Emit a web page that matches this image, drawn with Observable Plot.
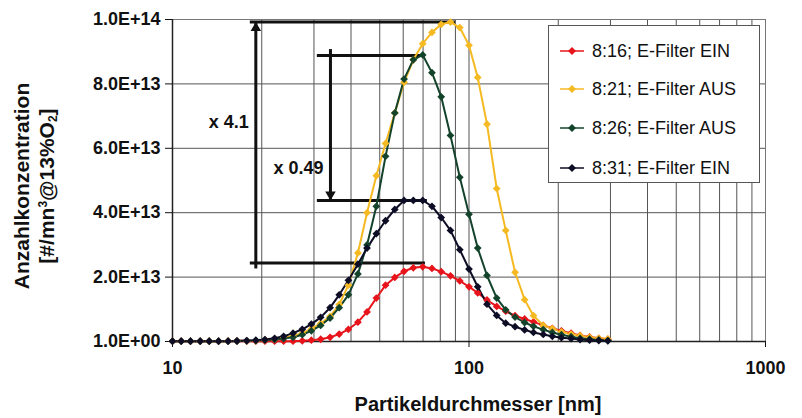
<!DOCTYPE html>
<html><head><meta charset="utf-8">
<script src="https://cdn.jsdelivr.net/npm/d3@7"></script>
<script src="https://cdn.jsdelivr.net/npm/@observablehq/plot@0.6"></script>
<style>
body{margin:0;background:#fff;}
#wrap{position:relative;width:802px;height:418px;font-family:"Liberation Sans",Arial,sans-serif;color:#111;}
#legend{position:absolute;left:548px;top:25px;width:212px;height:158px;border:1px solid #555;background:#fff;box-sizing:border-box;}
.row{position:absolute;left:10px;height:22px;display:flex;align-items:center;font-size:18px;white-space:nowrap;}
.row svg{margin-right:7px;}
#xtitle{position:absolute;left:278px;top:392px;width:400px;text-align:center;font-size:20px;font-weight:bold;line-height:24px;}
#ytitle{position:absolute;left:-86px;top:161px;width:240px;height:50px;text-align:center;font-size:21px;font-weight:bold;line-height:25px;transform:rotate(-90deg);transform-origin:center;}
#ytitle sup{font-size:12px;vertical-align:7px;line-height:0;}
#ytitle sub{font-size:12px;vertical-align:-3px;line-height:0;}
</style></head><body><div id="wrap"></div>
<script>
const diameters = [10.0,10.7,11.5,12.4,13.3,14.3,15.4,16.5,17.8,19.1,20.5,22.1,23.7,25.5,27.4,29.4,31.6,34.0,36.5,39.2,42.2,45.3,48.7,52.3,56.2,60.4,64.9,69.8,75.0,80.6,86.6,93.1,100,107,115,124,133,143,154,165,178,191,205,221,237,255,274,294];
const seriesNames = ["8:16; E-Filter EIN","8:21; E-Filter AUS","8:26; E-Filter AUS","8:31; E-Filter EIN"];
const seriesColors = ["#e8141c","#f5b922","#14432c","#0d0d26"];
// concentrations in units of 1e12 #/mn3
const conc816 = [0.1,0.1,0.1,0.1,0.1,0.1,0.1,0.1,0.1,0.1,0.1,0.1,0.1,0.1,0.2,0.4,0.7,1.3,2.3,3.8,6.0,9.2,13.5,17.5,19.9,21.8,22.9,23.2,22.7,21.7,20.4,18.8,17.0,15.1,12.9,10.9,9.4,8.0,7.0,6.1,5.0,4.1,3.3,2.6,1.9,1.4,1.0,0.7];
const conc821 = [0.1,0.1,0.1,0.1,0.1,0.1,0.1,0.2,0.2,0.3,0.5,0.7,1.1,1.7,2.6,3.9,5.6,7.8,11.5,17.5,27.5,40.0,51.5,61.5,71.0,80.5,87.5,92.5,96.0,98.5,99.2,97.5,92.0,82.0,67.5,47.5,34.5,21.5,13.0,8.0,5.0,4.0,3.0,2.3,1.8,1.3,1.0,0.8];
const conc826 = [0.1,0.1,0.1,0.1,0.1,0.1,0.1,0.1,0.2,0.3,0.4,0.6,0.9,1.3,2.1,3.3,5.0,7.3,10.5,14.5,21.0,30.0,42.0,57.5,71.0,81.5,87.5,89.0,83.5,76.0,64.0,51.0,39.5,29.0,20.5,13.5,9.8,7.6,5.9,4.7,3.7,2.8,2.1,1.5,1.0,0.7,0.5,0.3];
const conc831 = [0.1,0.1,0.1,0.1,0.1,0.1,0.1,0.2,0.3,0.4,0.6,1.0,1.6,2.6,3.8,5.4,7.5,10.5,14.5,19.0,24.0,29.0,33.5,37.5,41.0,43.8,43.8,43.8,42.0,38.5,34.5,28.5,22.5,17.0,11.6,8.1,5.7,4.6,3.6,2.8,2.2,1.6,1.2,0.9,0.6,0.4,0.3,0.2];
const yTicks = [0,20,40,60,80,100];
const yTickLabels = ["1.0E+00","2.0E+13","4.0E+13","6.0E+13","8.0E+13","1.0E+14"];
const xTickValues = [10,100,1000];
const xGridValues = [20,30,40,50,60,70,80,90,100,200,300,400,500,600,700,800,900];
const yGridValues = [20,40,60,80];
// ratio annotations
const ratioLabels = ["x 4.1","x 0.49"];
const ratioArrowX = [19.1,34.1];
const ratioLeftX = [18.3,30.8];
const ratioHighV = [99.2,88.8];
const ratioHighRightX = [90,70.2];
const ratioLowV = [24.4,43.8];
const ratioLowRightX = [71.3,72.4];
const ratioLabelV = [68,53.7];
const ratioArrowUp = [true,false];

const rows = [];
[conc816,conc821,conc826,conc831].forEach((vals,k)=>vals.forEach((v,i)=>rows.push({d:diameters[i],v,s:seriesNames[k]})));
const hLines = ratioLabels.flatMap((t,i)=>[{v:ratioHighV[i],a:ratioLeftX[i],b:ratioHighRightX[i]},{v:ratioLowV[i],a:ratioLeftX[i],b:ratioLowRightX[i]}]);
const vLines = ratioLabels.map((t,i)=>({x:ratioArrowX[i],lo:ratioLowV[i],hi:ratioHighV[i],up:ratioArrowUp[i]}));
const heads = ratioLabels.map((t,i)=>({x:ratioArrowX[i],v:ratioArrowUp[i]?ratioHighV[i]:ratioLowV[i],up:ratioArrowUp[i]}));
const labels = ratioLabels.map((t,i)=>({x:ratioArrowX[i],v:ratioLabelV[i],t}));

const chart = Plot.plot({
  width:802, height:418,
  marginLeft:172, marginRight:37, marginTop:19, marginBottom:77,
  style:{fontFamily:"Liberation Sans, Arial, sans-serif",fontSize:"18px",fontWeight:"bold",background:"white",color:"#111"},
  x:{type:"log",domain:[10,1000]},
  y:{domain:[0,100]},
  color:{domain:seriesNames,range:seriesColors},
  marks:[
    Plot.gridX(xGridValues,{stroke:"#555",strokeOpacity:1,strokeWidth:1}),
    Plot.gridY(yGridValues,{stroke:"#555",strokeOpacity:1,strokeWidth:1}),
    Plot.frame({stroke:"#777"}),
    Plot.ruleX([10],{stroke:"#222",strokeWidth:1.5}),
    Plot.ruleY([0],{stroke:"#222",strokeWidth:1.5}),
    Plot.axisX(xTickValues,{tickFormat:d=>String(d),tickSize:6,tickPadding:14,label:null,fontSize:18,fontWeight:"bold"}),
    Plot.axisY(yTicks,{tickFormat:d=>yTickLabels[yTicks.indexOf(d)],tickSize:7,tickPadding:5,label:null,fontSize:18,fontWeight:"bold"}),
    Plot.ruleY(hLines,{y:"v",x1:"a",x2:"b",stroke:"#111",strokeWidth:3}),
    Plot.ruleX(vLines.filter(d=>d.up),{x:"x",y1:"lo",y2:"hi",stroke:"#111",strokeWidth:3,insetTop:6}),
    Plot.ruleX(vLines.filter(d=>!d.up),{x:"x",y1:"lo",y2:"hi",stroke:"#111",strokeWidth:3,insetBottom:6}),
    Plot.dot(heads.filter(d=>d.up),{x:"x",y:"v",symbol:"triangle",r:3.9,fill:"#111",stroke:null,dy:6}),
    Plot.dot(heads.filter(d=>!d.up),{x:"x",y:"v",symbol:"triangle",r:3.9,fill:"#111",stroke:null,rotate:180,dy:-6}),
    Plot.text(labels,{x:"x",y:"v",text:"t",textAnchor:"end",dx:-7,fontSize:18,fontWeight:"bold",fill:"#111"}),
    Plot.line(rows,{x:"d",y:"v",z:"s",stroke:"s",strokeWidth:2}),
    Plot.dot(rows,{x:"d",y:"v",fill:"s",symbol:"diamond2",r:3.5,stroke:null})
  ]
});
const wrap = document.getElementById("wrap");
wrap.appendChild(chart);

const legend = document.createElement("div");
legend.id = "legend";
const rowTops = [14,52,91,131];
seriesNames.forEach((name,k)=>{
  const r = document.createElement("div");
  r.className = "row";
  r.style.top = rowTops[k]+"px";
  r.innerHTML = `<svg width="26" height="12"><line x1="1" y1="6" x2="25" y2="6" stroke="${seriesColors[k]}" stroke-width="1.5"/><polygon points="13,2 17,6 13,10 9,6" fill="${seriesColors[k]}"/></svg><span>${name}</span>`;
  legend.appendChild(r);
});
wrap.appendChild(legend);

const xt = document.createElement("div");
xt.id = "xtitle";
xt.textContent = "Partikeldurchmesser [nm]";
wrap.appendChild(xt);
const yt = document.createElement("div");
yt.id = "ytitle";
yt.innerHTML = "Anzahlkonzentration<br>[#/mn<sup>3</sup>@13%O<sub>2</sub>]";
wrap.appendChild(yt);
</script></body></html>
